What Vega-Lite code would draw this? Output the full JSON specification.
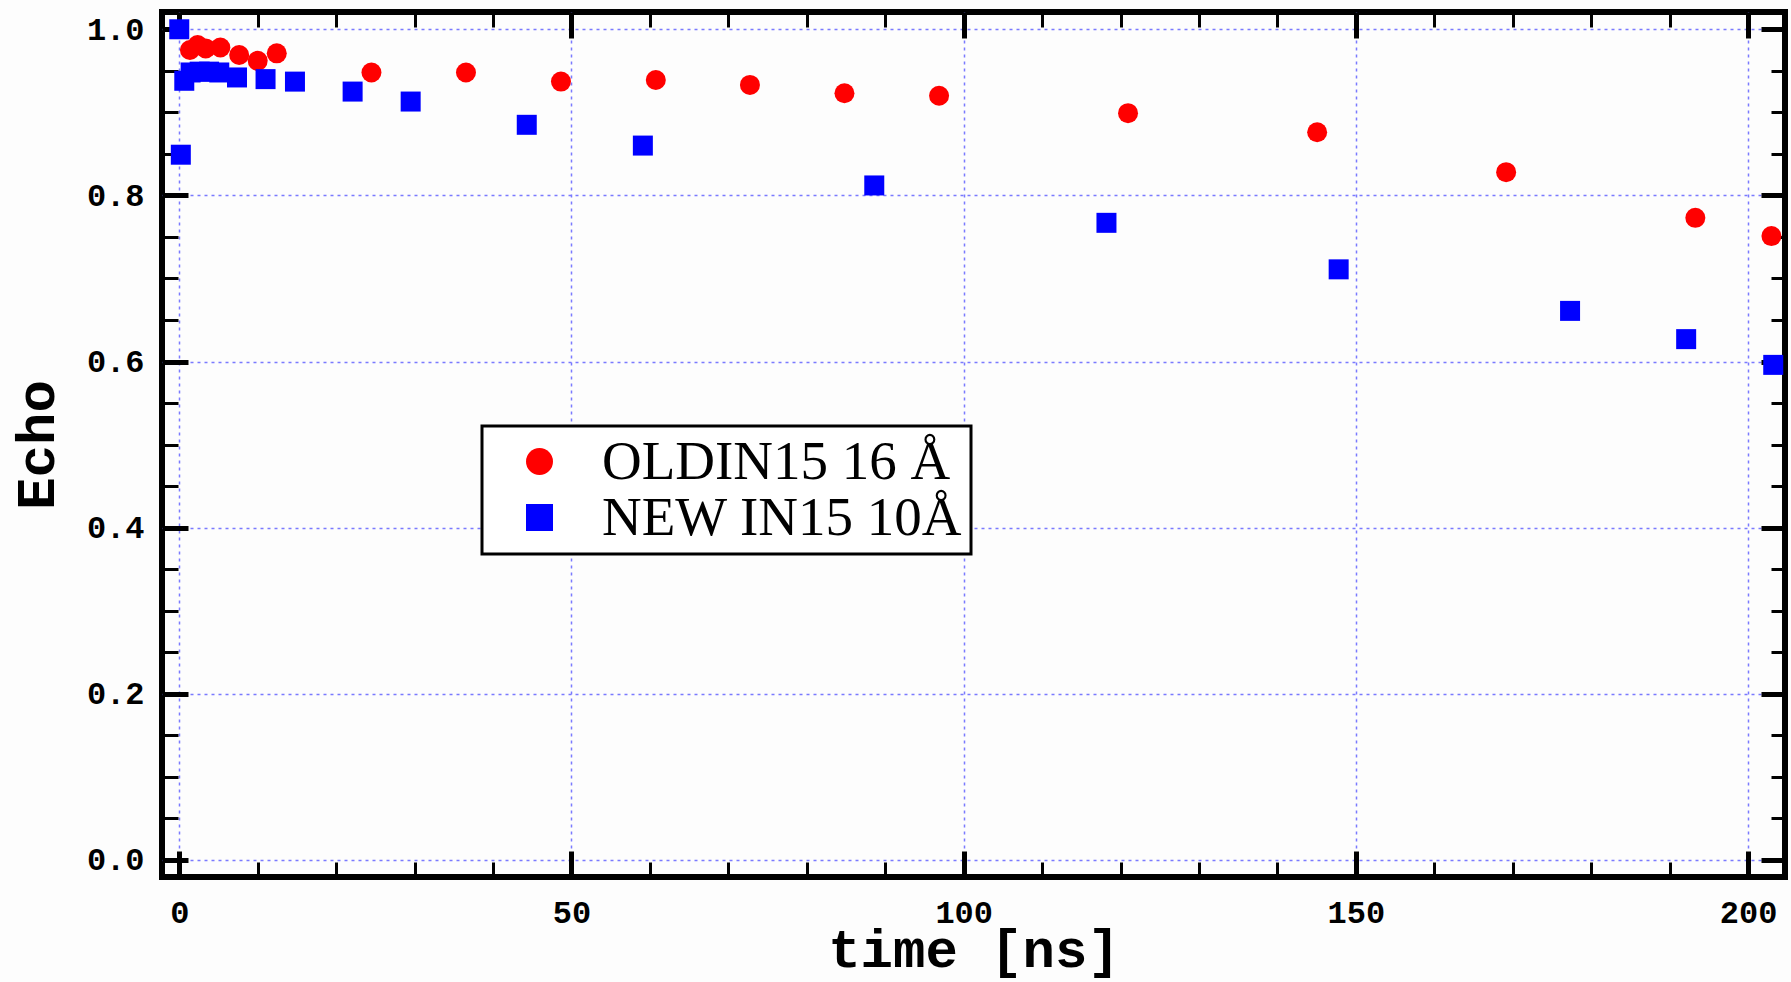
{
  "$schema": "https://vega.github.io/schema/vega-lite/v6.json",
  "width": 1623,
  "height": 865,
  "autosize": {"type": "none"},
  "padding": {"left": 162, "top": 12, "right": 6, "bottom": 105},
  "background": "#fdfdfd",
  "view": {"stroke": "black", "strokeWidth": 6, "fill": "#fdfdfd"},
  "data": {
    "values": [
      {"t": 1.36, "echo": 0.975, "series": "OLDIN15 16 Å"},
      {"t": 2.34, "echo": 0.981, "series": "OLDIN15 16 Å"},
      {"t": 3.37, "echo": 0.977, "series": "OLDIN15 16 Å"},
      {"t": 5.24, "echo": 0.978, "series": "OLDIN15 16 Å"},
      {"t": 7.64, "echo": 0.969, "series": "OLDIN15 16 Å"},
      {"t": 10.0, "echo": 0.962, "series": "OLDIN15 16 Å"},
      {"t": 12.43, "echo": 0.971, "series": "OLDIN15 16 Å"},
      {"t": 24.5, "echo": 0.948, "series": "OLDIN15 16 Å"},
      {"t": 36.55, "echo": 0.948, "series": "OLDIN15 16 Å"},
      {"t": 48.66, "echo": 0.937, "series": "OLDIN15 16 Å"},
      {"t": 60.75, "echo": 0.939, "series": "OLDIN15 16 Å"},
      {"t": 72.75, "echo": 0.933, "series": "OLDIN15 16 Å"},
      {"t": 84.8, "echo": 0.923, "series": "OLDIN15 16 Å"},
      {"t": 96.86, "echo": 0.920, "series": "OLDIN15 16 Å"},
      {"t": 120.95, "echo": 0.899, "series": "OLDIN15 16 Å"},
      {"t": 145.06, "echo": 0.876, "series": "OLDIN15 16 Å"},
      {"t": 169.15, "echo": 0.828, "series": "OLDIN15 16 Å"},
      {"t": 193.27, "echo": 0.773, "series": "OLDIN15 16 Å"},
      {"t": 202.97, "echo": 0.751, "series": "OLDIN15 16 Å"},
      {"t": 0.0, "echo": 1.0, "series": "NEW IN15 10Å"},
      {"t": 0.2, "echo": 0.849, "series": "NEW IN15 10Å"},
      {"t": 0.64, "echo": 0.938, "series": "NEW IN15 10Å"},
      {"t": 1.45, "echo": 0.948, "series": "NEW IN15 10Å"},
      {"t": 2.6, "echo": 0.949, "series": "NEW IN15 10Å"},
      {"t": 3.8, "echo": 0.949, "series": "NEW IN15 10Å"},
      {"t": 5.1, "echo": 0.948, "series": "NEW IN15 10Å"},
      {"t": 7.36, "echo": 0.942, "series": "NEW IN15 10Å"},
      {"t": 11.0, "echo": 0.940, "series": "NEW IN15 10Å"},
      {"t": 14.75, "echo": 0.937, "series": "NEW IN15 10Å"},
      {"t": 22.1, "echo": 0.925, "series": "NEW IN15 10Å"},
      {"t": 29.5, "echo": 0.913, "series": "NEW IN15 10Å"},
      {"t": 44.3, "echo": 0.885, "series": "NEW IN15 10Å"},
      {"t": 59.1, "echo": 0.860, "series": "NEW IN15 10Å"},
      {"t": 88.6, "echo": 0.812, "series": "NEW IN15 10Å"},
      {"t": 118.2, "echo": 0.767, "series": "NEW IN15 10Å"},
      {"t": 147.8, "echo": 0.711, "series": "NEW IN15 10Å"},
      {"t": 177.3, "echo": 0.661, "series": "NEW IN15 10Å"},
      {"t": 192.1, "echo": 0.627, "series": "NEW IN15 10Å"},
      {"t": 203.2, "echo": 0.596, "series": "NEW IN15 10Å"}
    ]
  },
  "config": {
    "axis": {
      "domain": false,
      "tickColor": "black",
      "labelFont": "Liberation Mono",
      "labelFontWeight": "bold",
      "labelFontSize": 32,
      "labelColor": "black",
      "labelFlush": false,
      "labelOverlap": false,
      "titleFont": "Liberation Mono",
      "titleFontWeight": "bold",
      "titleFontSize": 54,
      "titleColor": "black"
    },
    "legend": {
      "strokeColor": "black",
      "strokeWidth": 3,
      "fillColor": "white",
      "padding": 8,
      "labelFont": "Liberation Serif",
      "labelFontSize": 55,
      "labelColor": "black",
      "labelLimit": 0,
      "symbolSize": 729,
      "symbolOffset": 22,
      "labelOffset": 35,
      "rowPadding": 0,
      "symbolStrokeWidth": 0
    }
  },
  "layer": [
    {
      "mark": {"type": "point", "filled": true, "opacity": 1},
      "encoding": {
        "x": {
          "field": "t", "type": "quantitative",
          "scale": {"domain": [-2.2, 204.7], "nice": false, "zero": false},
          "axis": {
            "orient": "bottom", "values": [0, 50, 100, 150, 200], "format": "d",
            "title": "time [ns]", "grid": true, "gridColor": "#7a7aff", "gridDash": [3, 4], "gridWidth": 1.5,
            "tickSize": -26, "tickWidth": 5, "labelPadding": 46,
            "titleY": 89, "titleBaseline": "alphabetic"
          }
        },
        "y": {
          "field": "echo", "type": "quantitative",
          "scale": {"domain": [-0.0205, 1.0208], "nice": false, "zero": false},
          "axis": {
            "orient": "left", "values": [0, 0.2, 0.4, 0.6, 0.8, 1.0], "format": ".1f",
            "title": "Echo", "grid": true, "gridColor": "#7a7aff", "gridDash": [3, 4], "gridWidth": 1.5,
            "tickSize": -26, "tickWidth": 5, "labelPadding": 44,
            "titleX": -109, "titleBaseline": "alphabetic"
          }
        },
        "color": {
          "field": "series", "type": "nominal",
          "scale": {"domain": ["OLDIN15 16 Å", "NEW IN15 10Å"], "range": ["#ff0000", "#0000ff"]},
          "legend": {"title": null, "orient": "none", "legendX": 320, "legendY": 414}
        },
        "shape": {
          "field": "series", "type": "nominal",
          "scale": {"domain": ["OLDIN15 16 Å", "NEW IN15 10Å"], "range": ["circle", "square"]},
          "legend": {"title": null, "orient": "none", "legendX": 320, "legendY": 414}
        },
        "size": {"value": 400}
      }
    },
    {
      "mark": {"type": "point", "opacity": 0},
      "encoding": {
        "x": {
          "field": "t", "type": "quantitative",
          "scale": {"domain": [-2.2, 204.7], "nice": false, "zero": false},
          "axis": {
            "orient": "bottom", "values": [10, 20, 30, 40, 60, 70, 80, 90, 110, 120, 130, 140, 160, 170, 180, 190],
            "title": null, "grid": false, "labels": false, "tickSize": -15, "tickWidth": 3
          }
        },
        "y": {
          "field": "echo", "type": "quantitative",
          "scale": {"domain": [-0.0205, 1.0208], "nice": false, "zero": false},
          "axis": {
            "orient": "left", "values": [0.05, 0.1, 0.15, 0.25, 0.3, 0.35, 0.45, 0.5, 0.55, 0.65, 0.7, 0.75, 0.85, 0.9, 0.95],
            "title": null, "grid": false, "labels": false, "tickSize": -16, "tickWidth": 3
          }
        }
      }
    },
    {
      "mark": {"type": "point", "opacity": 0},
      "encoding": {
        "x": {
          "field": "t", "type": "quantitative",
          "scale": {"domain": [-2.2, 204.7], "nice": false, "zero": false},
          "axis": {
            "orient": "top", "values": [0, 50, 100, 150, 200],
            "title": null, "grid": false, "labels": false, "tickSize": -26, "tickWidth": 5
          }
        },
        "y": {
          "field": "echo", "type": "quantitative",
          "scale": {"domain": [-0.0205, 1.0208], "nice": false, "zero": false},
          "axis": {
            "orient": "right", "values": [0, 0.2, 0.4, 0.6, 0.8, 1.0],
            "title": null, "grid": false, "labels": false, "tickSize": -24, "tickWidth": 5
          }
        }
      }
    },
    {
      "mark": {"type": "point", "opacity": 0},
      "encoding": {
        "x": {
          "field": "t", "type": "quantitative",
          "scale": {"domain": [-2.2, 204.7], "nice": false, "zero": false},
          "axis": {
            "orient": "top", "values": [10, 20, 30, 40, 60, 70, 80, 90, 110, 120, 130, 140, 160, 170, 180, 190],
            "title": null, "grid": false, "labels": false, "tickSize": -15, "tickWidth": 3
          }
        },
        "y": {
          "field": "echo", "type": "quantitative",
          "scale": {"domain": [-0.0205, 1.0208], "nice": false, "zero": false},
          "axis": {
            "orient": "right", "values": [0.05, 0.1, 0.15, 0.25, 0.3, 0.35, 0.45, 0.5, 0.55, 0.65, 0.7, 0.75, 0.85, 0.9, 0.95],
            "title": null, "grid": false, "labels": false, "tickSize": -14, "tickWidth": 3
          }
        }
      }
    }
  ],
  "resolve": {"axis": {"x": "independent", "y": "independent"}}
}
